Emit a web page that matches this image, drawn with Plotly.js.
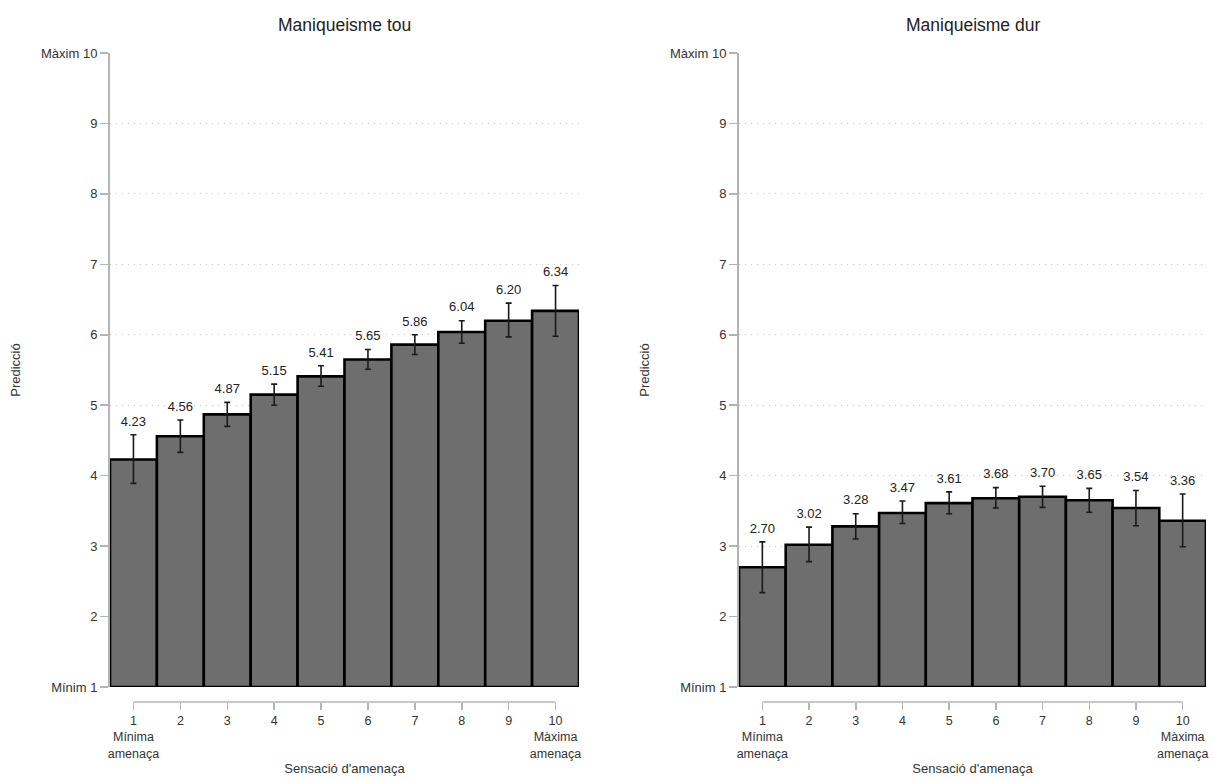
<!DOCTYPE html>
<html>
<head>
<meta charset="utf-8">
<script src="https://cdn.plot.ly/plotly-3.0.1.min.js"></script>
<style>html,body{margin:0;padding:0;background:#fff;}#chart{width:1213px;height:778px;}</style>
</head>
<body>
<div id="chart"></div>
<script>
// ---- Data ----
const categories = [1, 2, 3, 4, 5, 6, 7, 8, 9, 10];
const xTickLabels = ["1<br>Mínima<br>amenaça", "2", "3", "4", "5", "6", "7", "8", "9", "10<br>Màxima<br>amenaça"];
const yTickVals = [1, 2, 3, 4, 5, 6, 7, 8, 9, 10];
const yTickLabels = ["Mínim 1", "2", "3", "4", "5", "6", "7", "8", "9", "Màxim 10"];

const titleSoft = "Maniqueisme tou";
const softValues = [4.23, 4.56, 4.87, 5.15, 5.41, 5.65, 5.86, 6.04, 6.20, 6.34];
const softLow    = [3.89, 4.33, 4.70, 5.00, 5.27, 5.51, 5.72, 5.88, 5.97, 5.98];
const softHigh   = [4.58, 4.79, 5.04, 5.30, 5.56, 5.79, 6.00, 6.20, 6.45, 6.70];

const titleHard = "Maniqueisme dur";
const hardValues = [2.70, 3.02, 3.28, 3.47, 3.61, 3.68, 3.70, 3.65, 3.54, 3.36];
const hardLow    = [2.34, 2.78, 3.10, 3.32, 3.46, 3.54, 3.55, 3.48, 3.29, 2.99];
const hardHigh   = [3.06, 3.27, 3.46, 3.64, 3.77, 3.83, 3.85, 3.82, 3.79, 3.74];

const yMin = 1, yMax = 10;
const xLabel = "Sensació d'amenaça";
const yLabel = "Predicció";

// ---- Build ----
const FONT = "Liberation Sans, Arial, sans-serif";
const AXIS_GRAY = "#b4b4b4";

function panel(values, low, high, xa, ya) {
  return [
    {
      type: "bar", x: categories, y: values.map(v => v - yMin), base: yMin,
      xaxis: xa, yaxis: ya,
      marker: {color: "#6e6e6e", line: {color: "#000", width: 2.6}},
      hoverinfo: "skip", showlegend: false
    },
    {
      type: "scatter", mode: "markers", x: categories, y: values,
      xaxis: xa, yaxis: ya,
      marker: {opacity: 0, size: 1},
      error_y: {type: "data", symmetric: false,
        array: high.map((h, i) => h - values[i]),
        arrayminus: values.map((v, i) => v - low[i]),
        color: "#1a1a1a", thickness: 1.6, width: 3},
      hoverinfo: "skip", showlegend: false
    },
    {
      type: "scatter", mode: "markers+text", x: categories, y: high,
      xaxis: xa, yaxis: ya,
      marker: {opacity: 0, size: 8},
      text: values.map(v => v.toFixed(2)), textposition: "top center",
      textfont: {family: FONT, size: 13, color: "#222"},
      hoverinfo: "skip", showlegend: false, cliponaxis: false
    }
  ];
}

const data = panel(softValues, softLow, softHigh, "x", "y")
  .concat(panel(hardValues, hardLow, hardHigh, "x2", "y2"));

const W = 1213, H = 778;
const yDomain = [1 - 687 / H, 1 - 53 / H];
const xAxisPos = 1 - 702 / H;
const dom1 = [110 / W, 579 / W];
const dom2 = [739 / W, 1206 / W];

function xAxis(domain) {
  return {
    domain: domain, range: [0.5, 10.5], anchor: "free", position: xAxisPos,
    tickvals: categories, ticktext: xTickLabels,
    ticks: "outside", ticklen: 7, tickwidth: 1.5, tickcolor: AXIS_GRAY,
    showline: false, showgrid: false, zeroline: false,
    tickfont: {family: FONT, size: 12.5, color: "#333"},
    title: {text: xLabel, font: {family: FONT, size: 13, color: "#333"}, standoff: 4},
    fixedrange: true
  };
}
function yAxis(domain, anchor) {
  return {
    domain: domain, range: [yMin, yMax], anchor: anchor,
    tickvals: yTickVals, ticktext: yTickLabels,
    ticks: "outside", ticklen: 8, tickwidth: 1.5, tickcolor: AXIS_GRAY,
    showline: true, linecolor: AXIS_GRAY, linewidth: 2,
    showgrid: true, gridcolor: "#c4c4c4", griddash: "1px,5px", gridwidth: 1.2,
    zeroline: false,
    tickfont: {family: FONT, size: 13, color: "#333"},
    title: {text: yLabel, font: {family: FONT, size: 13, color: "#333"}, standoff: 17},
    fixedrange: true
  };
}

const layout = {
  width: W, height: H,
  margin: {l: 0, r: 0, t: 0, b: 0},
  paper_bgcolor: "#fff", plot_bgcolor: "#fff",
  bargap: 0,
  font: {family: FONT, size: 12, color: "#333"},
  xaxis: xAxis(dom1), yaxis: yAxis(yDomain, "x"),
  xaxis2: xAxis(dom2), yaxis2: yAxis(yDomain, "x2"),
  shapes: [
    {type: "line", xref: "x", yref: "paper", x0: categories[0], x1: categories[categories.length - 1],
     y0: xAxisPos, y1: xAxisPos, line: {color: AXIS_GRAY, width: 1.5}},
    {type: "line", xref: "x2", yref: "paper", x0: categories[0], x1: categories[categories.length - 1],
     y0: xAxisPos, y1: xAxisPos, line: {color: AXIS_GRAY, width: 1.5}}
  ],
  annotations: [
    {text: titleSoft, xref: "paper", yref: "paper", x: (dom1[0] + dom1[1]) / 2, y: 1 - 25 / H,
     showarrow: false, font: {family: FONT, size: 17.5, color: "#222"}, xanchor: "center", yanchor: "middle"},
    {text: titleHard, xref: "paper", yref: "paper", x: (dom2[0] + dom2[1]) / 2, y: 1 - 25 / H,
     showarrow: false, font: {family: FONT, size: 17.5, color: "#222"}, xanchor: "center", yanchor: "middle"}
  ]
};

Plotly.newPlot("chart", data, layout, {displayModeBar: false, staticPlot: true});
</script>
</body>
</html>
